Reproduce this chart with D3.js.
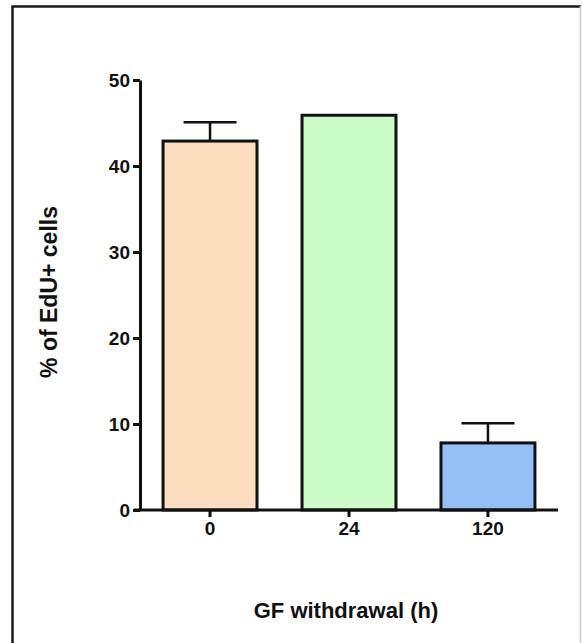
<!DOCTYPE html>
<html>
<head>
<meta charset="utf-8">
<script src="https://cdn.jsdelivr.net/npm/d3@7"></script>
<style>
  body { margin: 0; background: #fff; }
  svg { display: block; }
  text { font-family: "Liberation Sans", Arial, sans-serif; font-weight: bold; fill: #111; }
</style>
</head>
<body>
<svg width="582" height="643"></svg>
<script>
// data
var categories = ["0", "24", "120"];
var values = [42.9, 45.9, 7.8];
var errors = [2.2, 0, 2.3];
var colors = ["#fdddc0", "#ccfcc8", "#94c0f7"];
var yTicks = [0, 10, 20, 30, 40, 50];

var svg = d3.select("svg");

// outer frame (left + top dark, right light)
svg.append("path")
  .attr("d", "M12.5,643 L12.5,6.5 L581,6.5")
  .attr("fill", "none")
  .attr("stroke", "#1a1a1a")
  .attr("stroke-width", 2.5);
svg.append("line")
  .attr("x1", 580.5).attr("x2", 580.5)
  .attr("y1", 6).attr("y2", 643)
  .attr("stroke", "#c8c8c8")
  .attr("stroke-width", 1.5);

var x0 = 140, x1 = 558, yBase = 510, yTop = 80;

var x = d3.scaleBand()
  .domain(categories)
  .range([x0, x1])
  .paddingInner(0.324)
  .paddingOuter(0.166);

var y = d3.scaleLinear()
  .domain([0, 50])
  .range([yBase, yTop]);

// bars
var g = svg.append("g");
g.selectAll("rect")
  .data(values)
  .enter()
  .append("rect")
  .attr("x", function(d, i) { return x(categories[i]); })
  .attr("y", function(d) { return y(d); })
  .attr("width", x.bandwidth())
  .attr("height", function(d) { return y(0) - y(d); })
  .attr("fill", function(d, i) { return colors[i]; })
  .attr("stroke", "#111")
  .attr("stroke-width", 3);

// error bars (upper only)
var capW = 53;
values.forEach(function(v, i) {
  if (!errors[i]) return;
  var cx = x(categories[i]) + x.bandwidth() / 2;
  g.append("line")
    .attr("x1", cx).attr("x2", cx)
    .attr("y1", y(v)).attr("y2", y(v + errors[i]))
    .attr("stroke", "#111").attr("stroke-width", 2.5);
  g.append("line")
    .attr("x1", cx - capW / 2).attr("x2", cx + capW / 2)
    .attr("y1", y(v + errors[i])).attr("y2", y(v + errors[i]))
    .attr("stroke", "#111").attr("stroke-width", 2.5);
});

// y axis
var yAxis = svg.append("g")
  .attr("transform", "translate(" + x0 + ",0)")
  .call(d3.axisLeft(y).tickValues(yTicks).tickSize(7).tickPadding(3).tickSizeOuter(0));
yAxis.select(".domain").attr("stroke", "#111").attr("stroke-width", 3);
yAxis.selectAll(".tick line").attr("stroke", "#111").attr("stroke-width", 3);
yAxis.selectAll(".tick text").style("font-size", "19px").attr("fill", "#111");

// x axis
var xAxis = svg.append("g")
  .attr("transform", "translate(0," + yBase + ")")
  .call(d3.axisBottom(x).tickSize(7).tickPadding(5).tickSizeOuter(0));
xAxis.select(".domain").attr("stroke", "#111").attr("stroke-width", 3)
  .attr("d", "M" + (x0 - 6) + ",0H" + x1);
xAxis.selectAll(".tick line").attr("stroke", "#111").attr("stroke-width", 3);
xAxis.selectAll(".tick text").style("font-size", "19px").attr("fill", "#111");

// axis titles
svg.append("text")
  .attr("transform", "translate(57,292) rotate(-90)")
  .attr("text-anchor", "middle")
  .style("font-size", "23px")
  .text("% of EdU+ cells");

svg.append("text")
  .attr("x", 346)
  .attr("y", 618)
  .attr("text-anchor", "middle")
  .style("font-size", "22px")
  .text("GF withdrawal (h)");
</script>
</body>
</html>
